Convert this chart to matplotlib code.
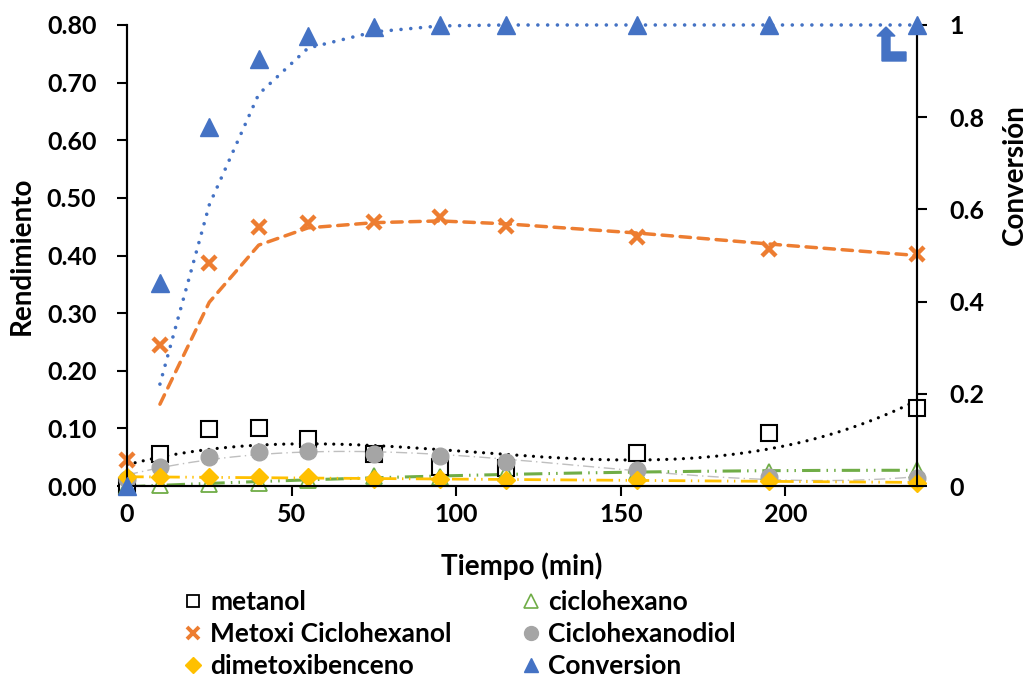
import matplotlib
matplotlib.use("Agg")
import matplotlib.pyplot as plt
import numpy as np
from matplotlib.lines import Line2D
from matplotlib.patches import Polygon

plt.rcParams["font.family"] = ["Lato", "DejaVu Sans"]
plt.rcParams["font.weight"] = "bold"

# Tiempo de reacción (min)
tiempo = [0, 10, 25, 40, 55, 75, 95, 115, 155, 195, 240]

# Rendimientos experimentales
metanol = [0.0, 0.055, 0.099, 0.101, 0.081, 0.056, 0.033, 0.032, 0.057, 0.092, 0.135]
ciclohexano = [0.0, 0.002, 0.003, 0.005, 0.010, 0.018, 0.016, 0.022, 0.024, 0.025, 0.028]
metoxi = [0.045, 0.244, 0.387, 0.449, 0.456, 0.458, 0.466, 0.451, 0.432, 0.412, 0.403]
diol = [0.013, 0.033, 0.051, 0.059, 0.061, 0.056, 0.052, 0.042, 0.028, 0.016, 0.014]
dimetoxi = [0.015, 0.015, 0.015, 0.016, 0.015, 0.013, 0.012, 0.011, 0.010, 0.008, 0.006]
conversion = [0.0, 0.44, 0.778, 0.926, 0.976, 0.995, 1.0, 1.0, 1.0, 1.0, 1.0]

# Curvas del modelo (a partir de t = 10 min)
t_modelo = [10, 25, 40, 55, 75, 95, 115, 155, 195, 240]
metoxi_modelo = [0.142, 0.319, 0.418, 0.448, 0.457, 0.460, 0.455, 0.439, 0.420, 0.400]
conv_modelo = [0.221, 0.61, 0.85, 0.95, 0.985, 0.998, 1.0, 1.0, 1.0, 1.0]

t = np.array(tiempo)
t_fit = np.linspace(0, 240, 300)


def tendencia(y, grado):
    coef = np.polyfit(t, np.array(y), grado)
    return np.polyval(coef, t_fit)


azul = "#4472C4"
naranja = "#ED7D31"
gris = "#A5A5A5"
oro = "#FFC000"
verde = "#70AD47"

fig = plt.figure(figsize=(10.26, 6.79), dpi=100)
ax = fig.add_axes([0.1238, 0.2842, 0.770, 0.6790])
ax2 = ax.twinx()

# Líneas de tendencia
ax.plot(t_fit, tendencia(metanol, 3), color="black", lw=2.3,
        linestyle=(0, (0.01, 2.6)), dash_capstyle="round", zorder=3)
ax.plot(t_fit, tendencia(diol, 3), color="#BFBFBF", lw=1.0,
        linestyle=(0, (8, 3, 1, 3)), zorder=2)
ax.plot(t_fit, tendencia(ciclohexano, 2), color=verde, lw=2.2,
        linestyle=(0, (6, 2, 0.5, 2, 0.5, 2)), zorder=2)
ax.plot(t_fit, tendencia(dimetoxi, 1), color=oro, lw=2.0,
        linestyle=(0, (6, 2, 0.5, 2, 0.5, 2)), zorder=2)
ax.plot(t_modelo, metoxi_modelo, color=naranja, lw=2.5,
        linestyle=(0, (3.0, 2.2)), dash_capstyle="round", zorder=3)

# Puntos experimentales
mk = dict(linestyle="none", clip_on=False)
ax.plot(tiempo, metanol, "s", ms=12, mfc="white", mec="black", mew=1.5,
        zorder=4, **mk)
ax.plot(tiempo, ciclohexano, "^", ms=12, mfc="white", mec=verde, mew=1.3,
        zorder=4, **mk)
ax.plot(tiempo, metoxi, "x", ms=10, mec=naranja, mew=3.2, zorder=5, **mk)
ax.plot(tiempo, diol, "o", ms=12, color=gris, zorder=5, **mk)
ax.plot(tiempo, dimetoxi, "D", ms=9, color=oro, zorder=6, **mk)

ax2.plot(t_modelo, conv_modelo, color=azul, lw=2.6, clip_on=False,
         linestyle=(0, (0.01, 2.7)), dash_capstyle="round", zorder=3)
ax2.plot(tiempo, conversion, "^", ms=13, color=azul, zorder=6, **mk)

ax.set_xlim(0, 240)
ax.set_ylim(0, 0.8)
ax2.set_ylim(0, 1)

ax.set_xticks([0, 50, 100, 150, 200])
ax.set_yticks(np.arange(0, 0.81, 0.1))
ax.set_yticklabels([f"{v:.2f}" for v in np.arange(0, 0.81, 0.1)])
ax2.set_yticks([0, 0.2, 0.4, 0.6, 0.8, 1])
ax2.set_yticklabels(["0", "0.2", "0.4", "0.6", "0.8", "1"])

for a in (ax, ax2):
    a.spines["top"].set_visible(False)
    for s in ("left", "right", "bottom"):
        a.spines[s].set_linewidth(1.5)
        a.spines[s].set_color("black")
    a.tick_params(axis="both", direction="out", length=7, width=1.5,
                  labelsize=18)
ax.tick_params(axis="y", pad=15)
ax.tick_params(axis="x", pad=5)
ax2.tick_params(axis="y", pad=16)

ax.set_xlabel("Tiempo (min)", fontsize=20, fontweight="bold")
ax.set_ylabel("Rendimiento", fontsize=20, fontweight="bold")
ax2.set_ylabel("Conversión", fontsize=20, fontweight="bold")
ax.xaxis.set_label_coords(0.499, -0.1735)
ax.yaxis.set_label_coords(-0.133, 0.5)
ax2.yaxis.set_label_coords(1.124, 0.675)
ax.xaxis.label.set_va("center")
ax.yaxis.label.set_va("center")
ax2.yaxis.label.set_va("center")

# Leyenda en dos columnas bajo el gráfico
col1 = [
    Line2D([], [], marker="s", ms=9, mfc="white", mec="black", mew=1.3, ls="none"),
    Line2D([], [], marker="x", ms=8, mec=naranja, mew=2.8, ls="none"),
    Line2D([], [], marker="D", ms=8, color=oro, ls="none"),
]
col2 = [
    Line2D([], [], marker="^", ms=10, mfc="white", mec=verde, mew=1.2, ls="none"),
    Line2D([], [], marker="o", ms=10, color=gris, ls="none"),
    Line2D([], [], marker="^", ms=10, color=azul, ls="none"),
]
kw = dict(loc="upper left", frameon=False, fontsize=19, handlelength=0.8,
          handletextpad=0.25, labelspacing=0.3, borderpad=0, borderaxespad=0)
fig.legend(col1, ["metanol", "Metoxi Ciclohexanol", "dimetoxibenceno"],
           bbox_to_anchor=(0.178, 0.131), **kw)
fig.legend(col2, ["ciclohexano", "Ciclohexanodiol", "Conversion"],
           bbox_to_anchor=(0.5073, 0.131), **kw)

# Flecha acodada azul en la esquina superior derecha
flecha = np.array([[886, 27], [895, 36], [890, 36], [890, 52], [906, 52],
                   [906, 61], [882, 61], [882, 36], [877, 36]], dtype=float)
flecha[:, 0] /= 1026
flecha[:, 1] = 1 - flecha[:, 1] / 679
fig.patches.append(Polygon(flecha, closed=True, color=azul,
                           transform=fig.transFigure, zorder=10))

fig.savefig("out.png", dpi=100)
